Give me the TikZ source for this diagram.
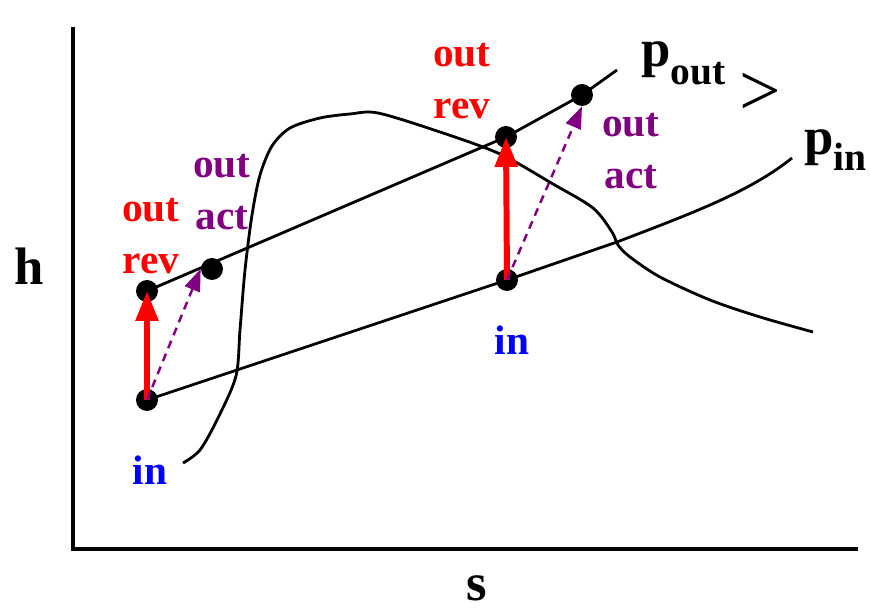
\documentclass[tikz,border=0pt]{standalone}
\usepackage{fontspec}
\setmainfont{Liberation Serif}
\usetikzlibrary{arrows.meta}
\definecolor{actcol}{RGB}{128,0,128}

\begin{document}
\begin{tikzpicture}[
  x=0.02cm, y=-0.02cm,
  dot/.style={circle, fill=black, inner sep=0pt, minimum size=0.44cm},
  lab/.style={font=\fontsize{23.5}{30}\selectfont\bfseries, align=center, inner sep=0pt},
  big/.style={font=\fontsize{30}{36}\selectfont\bfseries, inner sep=0pt},
  thin/.style={line width=1.6pt},
  revarr/.style={-{Triangle[length=0.6cm, width=0.44cm]}, red, line width=3.4pt},
  actarr/.style={-{Triangle[length=0.44cm, width=0.32cm]}, actcol, line width=1.4pt, dash pattern=on 0.16cm off 0.12cm}
]
\useasboundingbox (0,0) rectangle (870,614);
% axes
\coordinate (ytop) at (73,27);
\coordinate (orig) at (73,549);
\coordinate (xend) at (858,549);
\draw[line width=2.8pt] (ytop) -- (orig) -- (xend);
\node[big, anchor=base] (hlab) at (29,285) {h};
\node[big, anchor=base] (slab) at (477,601) {s};
% states
\node[dot] (in1) at (147,400) {};
\node[dot] (rev1) at (147,291) {};
\node[dot] (act1) at (212,269) {};
\node[dot] (in2) at (507,280) {};
\node[dot] (rev2) at (506,137) {};
\node[dot] (act2) at (582,95) {};
% dome
\draw[thin] plot[smooth, tension=0.5] coordinates {(183,463) (200,450) (218,418) (236,376) (240,330) (245,270) (252,215) (260,175) (272,146) (290,128) (320,118) (350,114) (378,113) (440,132) (500,154) (553,184) (593,208) (612,232) (618,245) (630,257) (660,277) (710,300) (760,317) (813,332)};
% isobars
\coordinate (pinend) at (792,158);
\coordinate (poutend) at (617,70);
\draw[thin] (in1.center) -- (in2.center) -- (617,242) .. controls (690,214) and (750,192) .. (pinend);
\draw[thin] (rev1.center) -- (rev2.center) -- (act2.center) -- (poutend);
\node[big, anchor=base west] (pout) at (641,67) {p\raisebox{-10pt}{\fontsize{22.5}{24}\selectfont out}};
\node[big, anchor=base west] (pin) at (804,155) {p\raisebox{-9pt}{\fontsize{22.5}{24}\selectfont in}};
\node[font=\fontsize{42}{48}\selectfont, inner sep=0pt] (gt) at (760,94) {>};
% processes
\draw[revarr] (in1.center) -- (rev1.center);
\draw[actarr] (in1.center) -- (act1.west);
\draw[revarr] (in2.center) -- (rev2.center);
\draw[actarr] (in2.center) -- (act2.south);
\node[lab, red] (rev1lab) at (151,236) {out\\rev};
\node[lab, actcol] (act1lab) at (222,192) {out\\act};
\node[lab, red] (rev2lab) at (462,81) {out\\rev};
\node[lab, actcol] (act2lab) at (631,151) {out\\act};
\node[lab, blue, anchor=base] (in1lab) at (150,485) {in};
\node[lab, blue, anchor=base] (in2lab) at (512,355) {in};
\end{tikzpicture}
\end{document}
